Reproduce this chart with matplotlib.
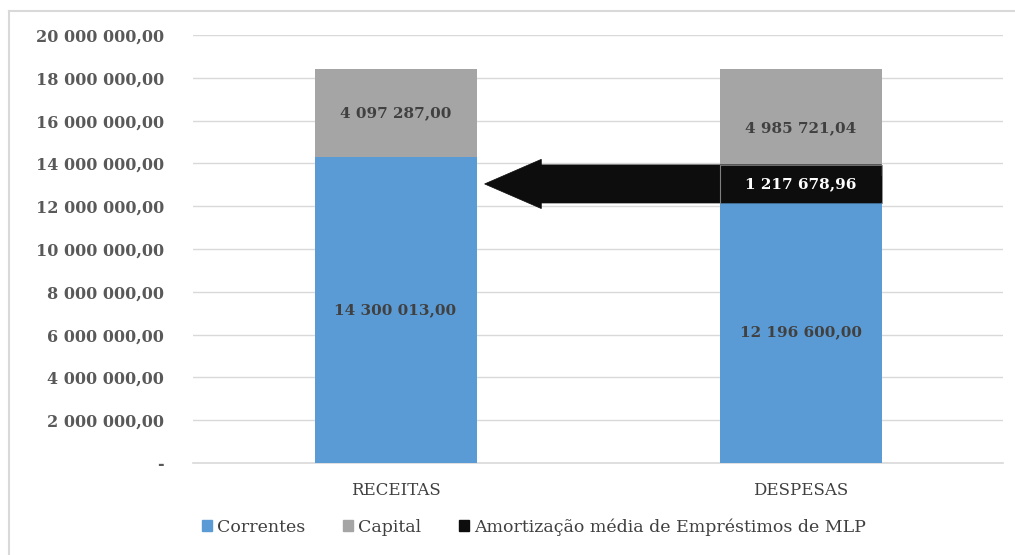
import matplotlib
matplotlib.use("Agg")
import matplotlib.pyplot as plt
from matplotlib.patches import Patch, Polygon
from matplotlib.lines import Line2D
from matplotlib.ticker import FuncFormatter

categories = ["RECEITAS", "DESPESAS"]
correntes = [14300013.00, 12196600.00]
amortizacao = [0.0, 1217678.96]
capital = [4097287.00, 4985721.04]
series_names = ["Correntes", "Capital", "Amortização média de Empréstimos de MLP"]
yticks = [0, 2e6, 4e6, 6e6, 8e6, 10e6, 12e6, 14e6, 16e6, 18e6, 20e6]

C_BLUE = "#5B9BD5"
C_GRAY = "#A5A5A5"
C_BLACK = "#0D0D0D"
TXT = "#404040"
FONT = "DejaVu Serif"

def fmt_num(v):
    s = f"{v:,.2f}"
    ip, dp = s.split(".")
    return ip.replace(",", " ") + "," + dp

fig = plt.figure(figsize=(10.15, 5.55), dpi=100)
ax = fig.add_axes([193/1015, 92/555, 810/1015, 428/555])

x = list(range(len(categories)))
w = 0.4
ax.bar(x, correntes, width=w, color=C_BLUE, zorder=2)
bot2 = [c for c in correntes]
ax.bar(x, amortizacao, width=w, bottom=bot2, color=C_BLACK, zorder=2)
bot3 = [c + a for c, a in zip(correntes, amortizacao)]
ax.bar(x, capital, width=w, bottom=bot3, color=C_GRAY, zorder=2)

# arrow annotation (shape pointing from DESPESAS amortization to RECEITAS)
yc = 13.04e6
sh = 0.89e6
hh = 1.15e6
tip = 0.22
back = 0.36
right = 1 + w / 2
left_bar = 1 - w / 2
arrow = Polygon([(tip, yc), (back, yc + hh), (back, yc + sh), (right, yc + sh),
                 (right, yc - sh), (back, yc - sh), (back, yc - hh)],
                closed=True, facecolor=C_BLACK, edgecolor=C_BLACK, lw=0.5, zorder=3)
ax.add_patch(arrow)
ax.plot([left_bar, left_bar], [yc - sh, yc + sh], color="#7F7F7F", lw=0.8, zorder=4)
ax.plot([left_bar, right, right], [yc + sh, yc + sh, yc - sh], color="#7F7F7F", lw=0.6, zorder=4)

# labels
lab_kw = dict(ha="center", va="center", fontsize=11, fontweight="bold", family=FONT, zorder=5)
for i in x:
    ax.text(i, correntes[i] / 2, fmt_num(correntes[i]), color=TXT, **lab_kw)
    ax.text(i, bot3[i] + capital[i] / 2 - (0.25e6 if i == 1 else 0), fmt_num(capital[i]), color=TXT, **lab_kw)
ax.text(1, yc, fmt_num(amortizacao[1]), color="white", **lab_kw)

ax.set_xlim(-0.5, 1.5)
ax.set_ylim(0, 20e6)
ax.set_yticks(yticks)
ax.yaxis.set_major_formatter(FuncFormatter(lambda v, p: "-" if v == 0 else fmt_num(v)))
ax.set_xticks(x)
ax.set_xticklabels(categories)
ax.grid(axis="y", color="#D9D9D9", lw=1, zorder=0)
ax.axhline(0, color="#D9D9D9", lw=1.2, zorder=1, clip_on=False)
ax.set_axisbelow(True)
for s in ax.spines.values():
    s.set_visible(False)
ax.tick_params(axis="both", length=0)
ax.tick_params(axis="y", pad=21, labelsize=11.5, labelcolor="#595959")
ax.tick_params(axis="x", pad=14, labelsize=12, labelcolor=TXT)
for t in ax.get_yticklabels():
    t.set_family(FONT)
    t.set_fontweight("bold")
for t in ax.get_xticklabels():
    t.set_family(FONT)

handles = [Patch(color=C_BLUE), Patch(color=C_GRAY), Patch(color=C_BLACK)]
leg = fig.legend(handles, series_names, loc="center", bbox_to_anchor=(534/1015, 1 - 527/555),
                 ncol=3, frameon=False, handlelength=0.55, handleheight=0.55, handletextpad=0.3,
                 columnspacing=2.2, prop={"family": FONT, "size": 12.5})
for t in leg.get_texts():
    t.set_color(TXT)

fig.add_artist(Line2D([9/1015, 1], [1 - 11/555, 1 - 11/555], color="#D9D9D9", lw=1.5))
fig.add_artist(Line2D([9/1015, 9/1015], [0, 1 - 11/555], color="#D9D9D9", lw=1.5))

fig.savefig("out.png", dpi=100)
